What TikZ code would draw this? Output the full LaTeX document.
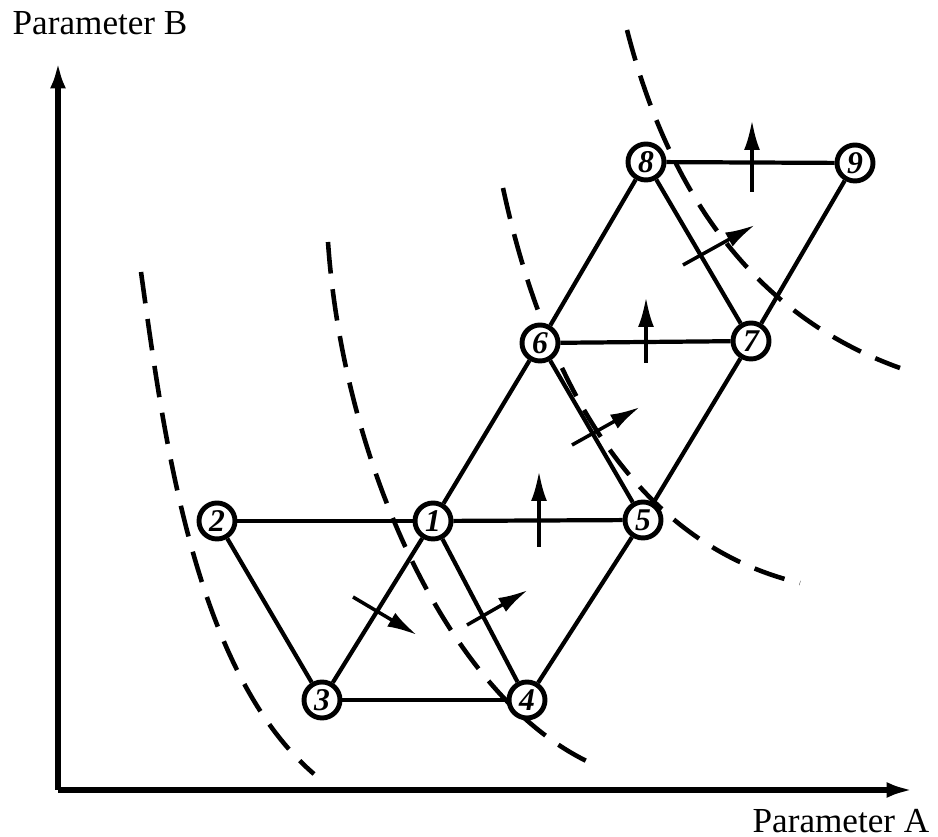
\documentclass[tikz,border=0pt]{standalone}
\usepackage{fontspec}
\setmainfont{Liberation Serif}
\usetikzlibrary{arrows.meta}

\begin{document}
\begin{tikzpicture}[every node/.style={font=\fontsize{10}{12}\selectfont},
  pt/.style={draw, circle, line width=1.4pt, minimum size=0.36cm, inner sep=0pt,
    fill=white, font=\fontsize{9}{10}\selectfont\bfseries\itshape},
  link/.style={line width=1.2pt},
  isoline/.style={line width=1.3pt, dash pattern=on 9pt off 4.5pt},
  grad/.style={line width=1pt, -{Latex[length=8.5pt,width=4.5pt]}},
  axis/.style={line width=1.5pt, -{Latex[length=7.5pt,width=4.5pt]}}]
  \useasboundingbox (-0.58,-0.47) rectangle (8.80,7.90);

  % Axes
  \coordinate (o) at (0,0);
  \coordinate (xend) at (8.55,0);
  \coordinate (yend) at (0,7.28);
  \draw[axis] (o) -- (xend);
  \draw[axis] (o) -- (yend);
  \node[anchor=base east, inner sep=0pt] (labA) at (8.72,-0.42) {Parameter A};
  \node[anchor=base west, inner sep=0pt] (labB) at (-0.46,7.55) {Parameter B};

  % Isolines of the objective
  \draw[isoline] (0.83,5.18) .. controls (1.05,3.6) and (1.35,1.2) .. (2.56,0.16);
  \draw[isoline] (2.70,5.48) .. controls (2.85,3.3) and (3.9,0.9) .. (5.37,0.25);
  \draw[isoline] (4.45,6.02) .. controls (4.8,4.4) and (5.6,2.5) .. (7.42,2.07);
  \draw[isoline] (5.69,7.60) .. controls (6.05,6.2) and (6.8,4.8) .. (8.42,4.22);

  % Simplex points
  \foreach \n/\x/\y in {1/3.75/2.69, 2/1.59/2.69, 3/2.64/0.90, 4/4.69/0.90,
                        5/5.85/2.70, 6/4.82/4.47, 7/6.93/4.49, 8/5.88/6.28, 9/7.97/6.27} {
    \node[pt] (p\n) at (\x,\y) {\n};
  }

  % Simplex edges
  \foreach \a/\b in {2/1, 1/5, 2/3, 3/1, 3/4, 1/4, 4/5, 1/6, 6/5, 5/7, 6/7, 6/8, 8/7, 7/9, 8/9} {
    \draw[link] (p\a) -- (p\b);
  }

  % Directions of improvement
  \foreach \xa/\ya/\xb/\yb in {2.95/1.93/3.59/1.55, 4.09/1.65/4.70/2.00, 4.81/2.43/4.81/3.19,
                               5.14/3.45/5.82/3.83, 5.88/4.27/5.88/4.93, 6.25/5.25/6.97/5.65,
                               6.94/5.98/6.94/6.70} {
    \draw[grad] (\xa,\ya) -- (\xb,\yb);
  }
\end{tikzpicture}
\end{document}
